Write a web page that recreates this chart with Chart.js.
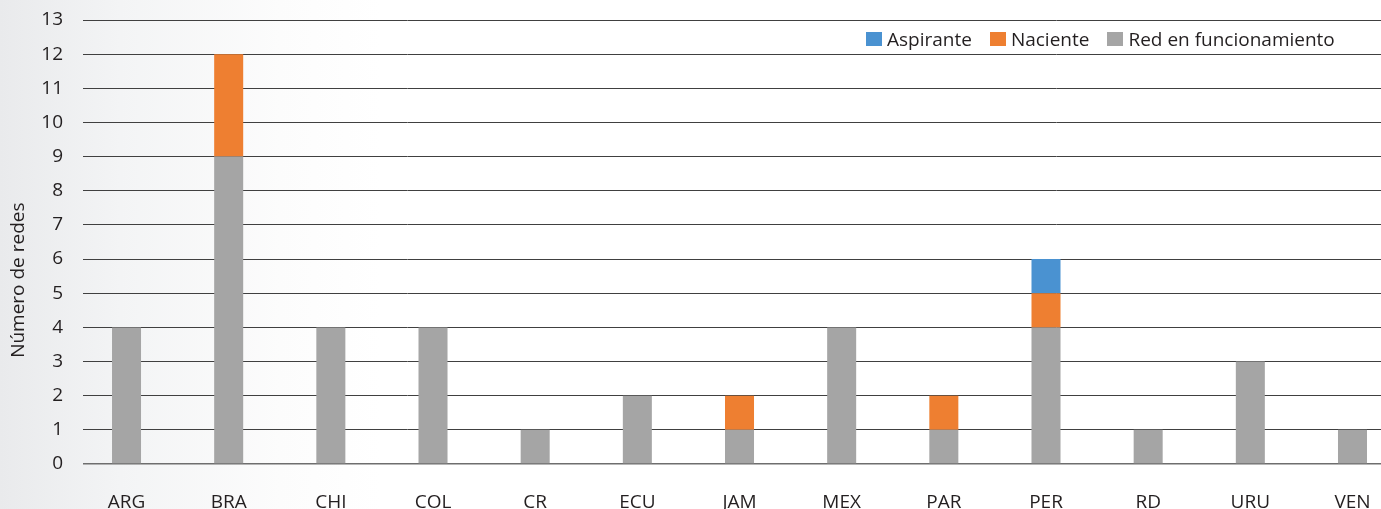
<!DOCTYPE html>
<html lang="es">
<head>
<meta charset="utf-8">
<title>Número de redes por país</title>
<script src="https://cdn.jsdelivr.net/npm/chart.js@4.4.1/dist/chart.umd.min.js"></script>
<style>
  html, body { margin: 0; padding: 0; overflow: hidden; }
  body {
    width: 1381px; height: 509px;
    background: linear-gradient(to right, #e9eaec 0px, #f3f4f5 120px, #fcfcfc 280px, #ffffff 380px);
    font-family: "Open Sans", sans-serif;
    color: #231f20;
  }
  #wrap { position: relative; width: 1381px; height: 509px; }
  canvas { display: block; }
  #legend {
    position: absolute; left: 866px; top: 26px;
    display: flex; align-items: center;
    font-size: 19px; line-height: 26px; white-space: nowrap;
  }
  #legend .item { display: flex; align-items: center; margin-right: 18px; }
  #legend .item:last-child { margin-right: 0; }
  #legend .sw { width: 16px; height: 14px; margin-right: 5px; }
</style>
</head>
<body>
<div id="wrap">
  <canvas id="chart" width="1381" height="509"></canvas>
  <div id="legend"></div>
</div>
<script>
// Países y número de redes por estado
const categories = ['ARG', 'BRA', 'CHI', 'COL', 'CR', 'ECU', 'JAM', 'MEX', 'PAR', 'PER', 'RD', 'URU', 'VEN'];
const redEnFuncionamiento = [4, 9, 4, 4, 1, 2, 1, 4, 1, 4, 1, 3, 1];
const naciente            = [0, 3, 0, 0, 0, 0, 1, 0, 1, 1, 0, 0, 0];
const aspirante           = [0, 0, 0, 0, 0, 0, 0, 0, 0, 1, 0, 0, 0];
const yMin = 0, yMax = 13, yStep = 1;

const COLORS = { red: '#a5a5a5', naciente: '#ee7f31', aspirante: '#4a92d1' };
const TEXT = '#231f20';
const FONT = '"Open Sans", sans-serif';

const toPoints = arr => arr.map((v, i) => ({ x: i, y: v }));

// Título vertical del eje Y
const axisTitle = {
  id: 'axisTitle',
  afterDraw(chart) {
    const { ctx, chartArea } = chart;
    ctx.save();
    ctx.font = '19px ' + FONT;
    ctx.fillStyle = TEXT;
    ctx.textAlign = 'center';
    ctx.textBaseline = 'middle';
    ctx.translate(19, chartArea.top + chartArea.height * 0.586);
    ctx.rotate(-Math.PI / 2);
    ctx.fillText('Número de redes', 0, 0);
    ctx.restore();
  }
};

const chart = new Chart(document.getElementById('chart'), {
  type: 'bar',
  data: {
    datasets: [
      { label: 'Red en funcionamiento', data: toPoints(redEnFuncionamiento), backgroundColor: COLORS.red },
      { label: 'Naciente', data: toPoints(naciente), backgroundColor: COLORS.naciente },
      { label: 'Aspirante', data: toPoints(aspirante), backgroundColor: COLORS.aspirante }
    ]
  },
  options: {
    responsive: false,
    animation: false,
    devicePixelRatio: 1,
    layout: { padding: { top: 20, right: 0, bottom: 0, left: 0 } },
    datasets: { bar: { barPercentage: 0.284, categoryPercentage: 1, borderWidth: 0 } },
    plugins: { legend: { display: false }, tooltip: { enabled: false } },
    scales: {
      x: {
        type: 'linear',
        stacked: true,
        offset: false,
        bounds: 'data',
        min: -0.426,
        max: 12.279,
        grid: { display: false, drawTicks: false },
        border: { display: false },
        afterBuildTicks: s => {
          s.ticks = categories.map((c, i) => ({ value: i }));
        },
        afterFit: s => {
          s.height = 45;
          s.paddingLeft = 0;
          s.paddingRight = 0;
        },
        ticks: {
          autoSkip: false,
          maxRotation: 0,
          padding: 27,
          color: TEXT,
          font: { family: FONT, size: 19, lineHeight: 1.2 },
          callback: v => categories[v] ?? ''
        }
      },
      y: {
        stacked: true,
        min: yMin,
        max: yMax,
        afterFit: s => {
          s.width = 83;
          s.paddingTop = 0;
          s.paddingBottom = 0;
        },
        grid: {
          color: ctx => (ctx.tick && ctx.tick.value === 0) ? '#6e6e6e' : '#404040',
          lineWidth: ctx => (ctx.tick && ctx.tick.value === 0) ? 1.5 : 1,
          drawTicks: false
        },
        border: { display: false },
        ticks: {
          stepSize: yStep,
          padding: 20,
          color: TEXT,
          font: { family: FONT, size: 19, lineHeight: 1.2 }
        }
      }
    }
  },
  plugins: [axisTitle]
});

// Leyenda: de arriba hacia abajo en la pila
const legend = document.getElementById('legend');
chart.data.datasets.slice().reverse().forEach(ds => {
  const item = document.createElement('div');
  item.className = 'item';
  const sw = document.createElement('span');
  sw.className = 'sw';
  sw.style.background = ds.backgroundColor;
  const txt = document.createElement('span');
  txt.textContent = ds.label;
  item.appendChild(sw);
  item.appendChild(txt);
  legend.appendChild(item);
});
</script>
</body>
</html>
